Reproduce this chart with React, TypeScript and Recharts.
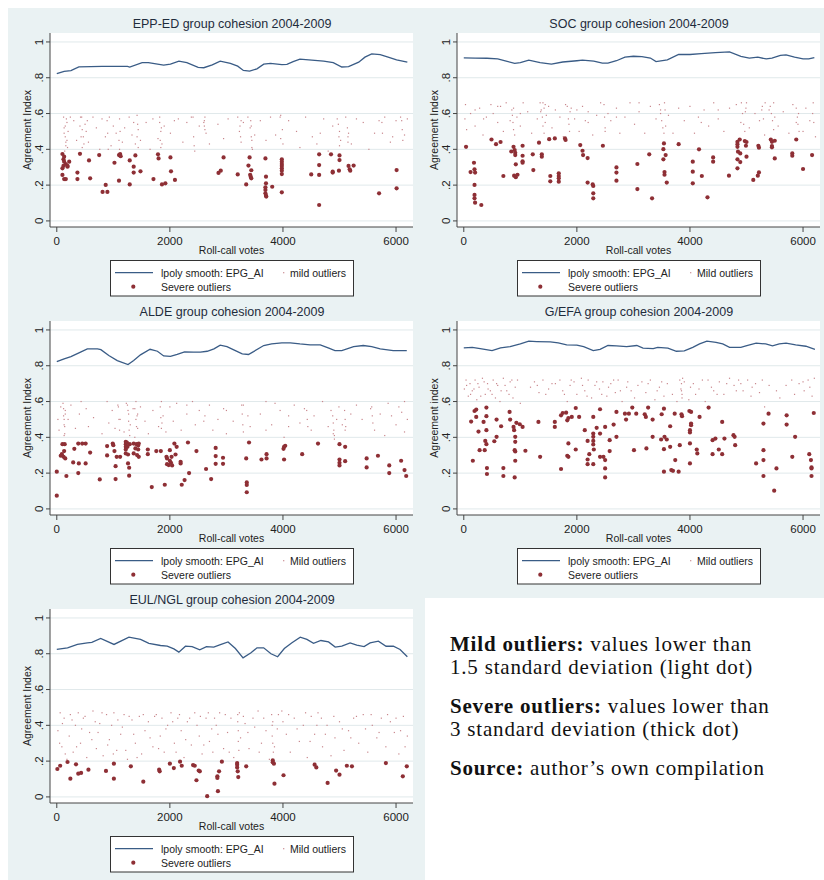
import { ComposedChart, XAxis, YAxis, CartesianGrid, Scatter } from "recharts"

type Pt = [number, number]

// ---- EPP-ED ----
const eppSmooth: Pt[] = [[0,.823],[130,.836],[250,.840],[390,.861],[600,.862],[800,.863],[1010,.864],[1250,.864],[1290,.860],[1510,.885],[1620,.885],[1890,.870],[2010,.876],[2160,.893],[2300,.885],[2500,.858],[2600,.856],[2750,.872],[2890,.893],[3070,.880],[3200,.865],[3300,.841],[3410,.837],[3540,.850],[3660,.876],[3780,.880],[3980,.873],[4070,.875],[4180,.890],[4300,.904],[4510,.898],[4720,.893],[4890,.884],[5040,.860],[5160,.862],[5340,.887],[5450,.915],[5570,.933],[5720,.929],[5860,.915],[6010,.900],[6200,.887]]
const eppSevere: Pt[] = [[100,.374],[130,.359],[118,.344],[130,.331],[160,.318],[118,.307],[100,.294],[190,.303],[220,.331],[190,.307],[100,.257],[130,.234],[160,.234],[365,.270],[365,.234],[410,.375],[570,.338],[590,.238],[750,.368],[810,.162],[865,.201],[895,.162],[1020,.325],[1100,.225],[1100,.368],[1120,.374],[1130,.362],[1290,.338],[1290,.204],[1360,.303],[1360,.270],[1390,.366],[1480,.277],[1710,.234],[1790,.372],[1800,.349],[1860,.204],[1920,.210],[2010,.355],[2020,.277],[2090,.229],[2860,.268],[2900,.281],[2950,.355],[3200,.260],[3350,.204],[3390,.309],[3410,.355],[3420,.258],[3430,.247],[3440,.238],[3440,.283],[3690,.349],[3700,.247],[3700,.210],[3690,.188],[3690,.173],[3690,.154],[3700,.141],[3705,.136],[3810,.191],[3980,.344],[3980,.331],[3980,.318],[3980,.307],[3980,.294],[3980,.281],[3980,.262],[3980,.160],[4500,.260],[4640,.372],[4640,.312],[4640,.257],[4640,.089],[4850,.372],[4880,.275],[4880,.270],[4990,.281],[5000,.366],[5000,.340],[5160,.307],[5180,.288],[5190,.281],[5250,.309],[5700,.154],[6010,.284],[6010,.182]]
const eppMild: Pt[] = [[120,.58],[130,.52],[150,.47],[160,.44],[180,.55],[190,.41],[200,.50],[240,.58],[300,.56],[350,.45],[410,.53],[420,.58],[430,.47],[450,.41],[520,.50],[540,.56],[560,.44],[640,.58],[700,.52],[760,.40],[800,.57],[860,.47],[930,.58],[960,.42],[1000,.53],[1050,.49],[1110,.57],[1160,.44],[1200,.52],[1280,.58],[1330,.48],[1360,.55],[1390,.43],[1420,.59],[1440,.51],[1480,.45],[1580,.55],[1650,.40],[1700,.57],[1790,.46],[1820,.58],[1840,.50],[1860,.43],[1900,.53],[2010,.49],[2080,.56],[2150,.57],[2230,.44],[2300,.55],[2380,.58],[2440,.39],[2520,.53],[2610,.56],[2620,.51],[2640,.49],[2700,.43],[2850,.54],[2950,.46],[3030,.57],[3200,.58],[3230,.50],[3260,.44],[3300,.55],[3380,.58],[3420,.52],[3440,.47],[3450,.41],[3500,.48],[3600,.56],[3700,.45],[3780,.58],[3870,.48],[3960,.59],[3990,.51],[4000,.43],[4100,.56],[4240,.50],[4300,.41],[4400,.58],[4520,.47],[4600,.43],[4660,.49],[4720,.57],[4800,.39],[4880,.53],[4960,.57],[5000,.50],[5020,.45],[5110,.58],[5150,.47],[5210,.43],[5300,.57],[5420,.55],[5520,.40],[5620,.49],[5700,.56],[5800,.58],[5900,.44],[5940,.47],[6000,.56],[6080,.58],[6150,.48],[6200,.57],
  [140,.39],[150,.53],[170,.57],[180,.45],[130,.49],[160,.42],[440,.58],[450,.51],[470,.47],[480,.43],[500,.54],[890,.56],[900,.49],[910,.40],[1100,.45],[1110,.40],[1120,.50],[1420,.47],[1430,.54],[1440,.41],[1820,.55],[1830,.45],[1840,.41],[1850,.52],[2410,.58],[2420,.47],[2430,.42],[2600,.55],[2610,.53],[2620,.58],[3240,.53],[3250,.47],[3260,.56],[3430,.56],[3440,.53],[3450,.45],[3460,.40],[3950,.58],[3960,.46],[4980,.54],[4990,.47],[5000,.42],[5140,.52],[5150,.44],[5160,.49],[5750,.55],[5760,.49],[6100,.56],[6110,.51],[6120,.45]]

// ---- SOC ----
const socSmooth: Pt[] = [[0,.911],[200,.910],[410,.909],[600,.905],[750,.893],[900,.880],[1000,.884],[1150,.898],[1350,.885],[1550,.876],[1750,.888],[2000,.895],[2100,.898],[2300,.893],[2450,.882],[2550,.882],[2700,.895],[2850,.915],[3000,.920],[3150,.918],[3300,.910],[3400,.890],[3600,.900],[3800,.930],[4000,.930],[4200,.935],[4450,.940],[4700,.945],[4900,.920],[5050,.910],[5200,.915],[5350,.905],[5450,.910],[5600,.925],[5700,.928],[5850,.915],[6000,.905],[6100,.905],[6200,.912]]
const socSevere: Pt[] = [[40,.414],[120,.273],[180,.325],[190,.288],[200,.270],[190,.201],[190,.145],[190,.126],[200,.102],[310,.089],[490,.455],[570,.429],[650,.441],[700,.251],[840,.388],[880,.414],[900,.396],[910,.381],[910,.368],[920,.316],[890,.253],[920,.244],[950,.258],[1040,.420],[1040,.364],[1040,.333],[1040,.325],[1220,.372],[1230,.284],[1330,.437],[1380,.372],[1380,.359],[1510,.457],[1530,.251],[1530,.221],[1610,.461],[1680,.266],[1680,.251],[1680,.238],[1680,.219],[1790,.461],[1800,.452],[2060,.424],[2100,.392],[2110,.368],[2190,.351],[2190,.214],[2280,.204],[2290,.195],[2290,.154],[2290,.126],[2460,.420],[2700,.299],[2700,.270],[2700,.225],[3070,.318],[3070,.178],[3280,.372],[3330,.126],[3540,.433],[3530,.401],[3530,.344],[3550,.273],[3550,.258],[3570,.368],[3590,.214],[3800,.429],[4050,.331],[4050,.275],[4050,.210],[4160,.400],[4210,.251],[4310,.132],[4410,.355],[4410,.331],[4690,.253],[4840,.442],[4840,.429],[4840,.414],[4850,.387],[4840,.344],[4840,.294],[4880,.455],[4890,.377],[4890,.329],[4970,.446],[4990,.420],[5000,.441],[5000,.359],[5120,.229],[5210,.420],[5220,.409],[5220,.271],[5200,.253],[5430,.455],[5450,.442],[5450,.418],[5450,.411],[5500,.448],[5500,.349],[5810,.377],[5810,.364],[5880,.455],[6000,.290],[6160,.368]]
const socMild: Pt[] = [[20,.57],[30,.65],[50,.51],[120,.60],[200,.53],[280,.63],[340,.48],[400,.58],[480,.65],[520,.60],[600,.55],[650,.64],[700,.50],[750,.66],[820,.56],[880,.63],[900,.48],[940,.58],[1000,.53],[1050,.66],[1130,.61],[1200,.49],[1300,.57],[1360,.61],[1400,.66],[1420,.63],[1440,.55],[1460,.59],[1500,.64],[1560,.52],[1620,.62],[1700,.58],[1760,.47],[1800,.65],[1860,.54],[1900,.63],[1960,.57],[2000,.62],[2040,.50],[2100,.64],[2150,.56],[2200,.61],[2280,.48],[2350,.59],[2420,.66],[2500,.52],[2550,.60],[2600,.56],[2700,.63],[2760,.49],[2850,.58],[2940,.66],[3020,.54],[3100,.61],[3200,.49],[3300,.64],[3400,.57],[3480,.62],[3550,.66],[3570,.53],[3620,.59],[3700,.49],[3800,.63],[3900,.56],[4000,.64],[4080,.49],[4150,.58],[4250,.62],[4330,.53],[4420,.66],[4500,.57],[4600,.50],[4700,.63],[4820,.65],[4900,.55],[4980,.61],[5000,.66],[5050,.52],[5150,.60],[5230,.56],[5280,.64],[5320,.48],[5400,.62],[5480,.66],[5500,.58],[5560,.53],[5650,.61],[5750,.49],[5820,.65],[5880,.55],[5920,.60],[6000,.50],[6050,.63],[6120,.56],[6180,.66],[6220,.47],
  [850,.62],[870,.55],[880,.51],[860,.59],[1350,.66],[1370,.62],[1390,.58],[1400,.53],[1420,.49],[1440,.65],[1830,.64],[1850,.57],[1870,.50],[1880,.61],[2480,.65],[2490,.58],[2500,.50],[3460,.65],[3480,.60],[3500,.56],[3520,.52],[3540,.49],[3560,.62],[4910,.66],[4930,.60],[4950,.54],[4970,.50],[4990,.63],[5270,.62],[5300,.57],[5330,.66],[5420,.64],[5440,.60],[5460,.56],[5480,.51],[5880,.63],[5900,.58],[5910,.54],[5930,.50],[6170,.60],[6190,.55],[200,.62],[350,.57],[600,.64],[1000,.60],[2200,.55],[2700,.58],[3100,.66],[4200,.55],[4500,.62]]

// ---- ALDE ----
const aldeSmooth: Pt[] = [[0,.823],[130,.838],[250,.851],[420,.876],[540,.894],[720,.894],[780,.890],[920,.857],[1070,.829],[1260,.807],[1360,.829],[1480,.861],[1650,.892],[1780,.881],[1890,.855],[2010,.852],[2130,.863],[2260,.878],[2420,.876],[2540,.876],[2660,.881],[2780,.894],[2890,.915],[3010,.907],[3130,.889],[3280,.866],[3390,.863],[3480,.879],[3660,.913],[3800,.922],[3980,.928],[4130,.928],[4300,.922],[4480,.917],[4660,.917],[4800,.900],[4920,.885],[5040,.885],[5250,.907],[5420,.913],[5570,.907],[5720,.894],[5950,.885],[6190,.885]]
const aldeSevere: Pt[] = [[0,.208],[0,.074],[70,.297],[90,.306],[100,.362],[120,.291],[130,.323],[140,.362],[150,.282],[170,.184],[290,.260],[310,.336],[380,.365],[390,.254],[380,.200],[450,.365],[510,.254],[510,.365],[590,.315],[760,.165],[890,.351],[890,.299],[990,.365],[1000,.356],[1020,.323],[1040,.239],[1040,.167],[1060,.291],[1120,.291],[1220,.375],[1220,.362],[1220,.347],[1220,.332],[1220,.310],[1240,.371],[1250,.347],[1260,.304],[1260,.254],[1280,.230],[1280,.186],[1290,.362],[1360,.365],[1360,.310],[1390,.338],[1410,.362],[1420,.301],[1440,.354],[1440,.332],[1450,.365],[1450,.291],[1610,.332],[1610,.306],[1680,.122],[1760,.323],[1840,.323],[1910,.135],[1940,.291],[1950,.282],[1950,.250],[1980,.245],[2000,.269],[2000,.328],[2020,.258],[2030,.291],[2040,.243],[2080,.365],[2100,.304],[2120,.347],[2190,.263],[2190,.254],[2210,.135],[2260,.161],[2320,.371],[2340,.200],[2470,.323],[2640,.223],[2730,.167],[2810,.341],[2810,.295],[2810,.252],[2940,.286],[2940,.252],[3350,.282],[3360,.148],[3360,.134],[3360,.093],[3400,.371],[3620,.276],[3710,.306],[3710,.282],[4010,.336],[4020,.347],[4020,.276],[4040,.353],[4340,.306],[4620,.365],[5000,.362],[5000,.276],[5000,.258],[5000,.243],[5100,.347],[5100,.267],[5480,.282],[5480,.232],[5680,.297],[5880,.243],[5880,.200],[6090,.269],[6150,.217],[6180,.184]]
const aldeMild: Pt[] = [[20,.50],[40,.44],[70,.57],[110,.59],[120,.52],[130,.47],[140,.42],[150,.55],[200,.50],[250,.58],[330,.45],[400,.53],[430,.60],[520,.56],[560,.46],[650,.51],[800,.42],[890,.60],[920,.48],[980,.55],[1030,.45],[1080,.58],[1120,.50],[1190,.43],[1230,.59],[1270,.53],[1300,.47],[1350,.56],[1380,.40],[1400,.60],[1420,.52],[1430,.45],[1480,.57],[1560,.49],[1620,.42],[1700,.55],[1800,.46],[1850,.60],[1880,.52],[1930,.43],[2000,.57],[2060,.49],[2120,.59],[2200,.44],[2300,.53],[2400,.60],[2450,.47],[2520,.55],[2620,.52],[2700,.58],[2760,.44],[2850,.50],[2950,.56],[3000,.42],[3120,.49],[3300,.58],[3380,.52],[3420,.46],[3600,.53],[3700,.60],[3800,.47],[3860,.59],[3950,.55],[4020,.40],[4100,.52],[4200,.58],[4300,.48],[4380,.56],[4500,.44],[4550,.52],[4700,.60],[4800,.46],[4850,.55],[4890,.42],[4910,.39],[4950,.50],[4990,.57],[5050,.47],[5100,.44],[5200,.53],[5300,.58],[5400,.50],[5550,.56],[5620,.44],[5720,.53],[5800,.41],[5860,.59],[5920,.52],[6000,.47],[6050,.57],[6150,.60],[6200,.50],
  [120,.56],[130,.50],[140,.46],[130,.41],[150,.53],[1090,.57],[1100,.50],[1110,.44],[1250,.58],[1260,.55],[1270,.49],[1280,.44],[1290,.41],[1380,.56],[1400,.50],[1410,.46],[1430,.53],[1830,.57],[1840,.51],[1850,.45],[1860,.48],[3270,.58],[3280,.53],[3290,.47],[3300,.43],[4420,.55],[4430,.50],[4440,.46],[4880,.52],[4890,.48],[4900,.44],[4910,.41],[5090,.55],[5100,.50],[5110,.46],[5570,.57],[5580,.52],[5590,.48],[2300,.58],[2600,.49],[3000,.55],[3700,.44],[4100,.46],[6100,.54],[6150,.43]]

// ---- G/EFA ----
const gefaSmooth: Pt[] = [[0,.900],[150,.903],[290,.896],[500,.885],[650,.900],[820,.907],[1000,.922],[1150,.937],[1290,.935],[1530,.933],[1670,.928],[1820,.917],[2000,.915],[2120,.907],[2290,.885],[2410,.892],[2550,.913],[2700,.911],[2880,.907],[3060,.913],[3170,.898],[3350,.896],[3430,.903],[3610,.898],[3760,.881],[3900,.883],[4050,.903],[4170,.922],[4300,.937],[4460,.931],[4580,.922],[4700,.903],[4900,.903],[4990,.911],[5170,.926],[5340,.922],[5460,.911],[5580,.922],[5700,.926],[5870,.917],[6050,.909],[6210,.892]]
const gefaSevere: Pt[] = [[130,.488],[160,.269],[190,.547],[220,.555],[220,.514],[260,.432],[280,.328],[350,.486],[370,.328],[380,.380],[400,.362],[400,.566],[400,.518],[400,.440],[410,.228],[410,.195],[540,.378],[580,.499],[580,.403],[660,.462],[700,.228],[700,.184],[810,.542],[820,.499],[880,.458],[890,.440],[900,.328],[910,.375],[910,.403],[930,.481],[910,.321],[910,.269],[900,.176],[990,.473],[1040,.458],[1090,.325],[1320,.486],[1350,.291],[1610,.486],[1610,.458],[1720,.223],[1720,.523],[1750,.536],[1810,.538],[1830,.495],[1850,.508],[1830,.297],[1850,.291],[1850,.366],[1910,.514],[1980,.564],[1980,.332],[2040,.514],[2140,.440],[2190,.380],[2190,.276],[2190,.250],[2220,.306],[2290,.514],[2290,.421],[2290,.403],[2290,.380],[2290,.360],[2300,.332],[2290,.250],[2350,.453],[2410,.557],[2410,.421],[2410,.291],[2470,.291],[2500,.458],[2500,.273],[2500,.226],[2500,.176],[2580,.323],[2580,.384],[2650,.471],[2700,.542],[2700,.403],[2850,.532],[2870,.499],[2920,.532],[3010,.328],[2980,.566],[3050,.532],[3200,.529],[3220,.514],[3230,.338],[3260,.566],[3340,.499],[3340,.403],[3490,.388],[3500,.529],[3540,.560],[3550,.403],[3540,.334],[3540,.208],[3590,.388],[3650,.462],[3650,.347],[3670,.217],[3700,.213],[3730,.532],[3740,.273],[3800,.208],[3820,.356],[3850,.529],[3860,.518],[3990,.547],[4020,.542],[4000,.440],[4000,.427],[4020,.477],[4020,.468],[4000,.366],[4000,.254],[4120,.332],[4130,.310],[4170,.514],[4330,.566],[4400,.384],[4400,.306],[4450,.393],[4510,.332],[4570,.486],[4570,.306],[4610,.393],[4770,.412],[4790,.403],[4800,.356],[5170,.254],[5300,.477],[5300,.328],[5300,.273],[5300,.184],[5390,.532],[5490,.102],[5530,.226],[5710,.523],[5710,.471],[5810,.291],[5860,.403],[6110,.306],[6140,.273],[6150,.232],[6150,.226],[6150,.184],[6190,.536]]
const gefaMild: Pt[] = [[10,.67],[40,.72],[80,.63],[110,.70],[150,.66],[200,.72],[230,.61],[270,.68],[330,.73],[380,.64],[420,.70],[470,.66],[520,.72],[560,.62],[600,.69],[640,.60],[700,.73],[760,.66],[820,.71],[870,.62],[910,.68],[950,.72],[1000,.59],[1180,.68],[1250,.71],[1330,.65],[1400,.72],[1500,.67],[1560,.70],[1700,.72],[1780,.64],[1830,.60],[1880,.69],[1950,.71],[2080,.73],[2140,.66],[2200,.72],[2260,.62],[2320,.69],[2400,.67],[2460,.71],[2530,.63],[2600,.70],[2680,.65],[2730,.72],[2800,.60],[2880,.68],[2960,.66],[3020,.62],[3150,.71],[3220,.65],[3300,.72],[3380,.61],[3460,.68],[3540,.63],[3600,.70],[3690,.64],[3770,.60],[3820,.72],[3840,.67],[3860,.64],[3900,.71],[3980,.61],[4060,.70],[4160,.67],[4270,.60],[4320,.72],[4420,.66],[4520,.71],[4600,.64],[4700,.73],[4780,.69],[4860,.72],[4940,.66],[5020,.72],[5080,.63],[5160,.70],[5280,.72],[5320,.57],[5400,.69],[5530,.66],[5590,.62],[5800,.72],[5850,.64],[5930,.70],[6020,.66],[6090,.72],[6160,.63],[6200,.73],
  [50,.69],[120,.64],[180,.67],[250,.70],[300,.63],[360,.71],[430,.67],[500,.64],[580,.70],[660,.66],[730,.69],[800,.64],[850,.72],[1300,.69],[1450,.64],[1620,.70],[1750,.66],[1900,.72],[2000,.64],[2100,.69],[2180,.63],[2350,.71],[2440,.64],[2560,.68],[2650,.72],[2770,.66],[2900,.71],[3080,.69],[3260,.70],[3420,.66],[3500,.71],[3850,.70],[3850,.66],[3860,.62],[3870,.73],[4010,.68],[4100,.64],[4220,.72],[4380,.68],[4480,.64],[4650,.70],[4820,.66],[4900,.70],[5100,.68],[5230,.65],[5700,.69],[6000,.71],[6120,.68]]

// ---- EUL/NGL ----
const eulSmooth: Pt[] = [[0,.824],[190,.833],[365,.852],[540,.861],[620,.863],[776,.885],[1012,.852],[1276,.893],[1482,.880],[1629,.858],[1835,.846],[1953,.842],[2071,.827],[2159,.809],[2276,.842],[2394,.840],[2529,.822],[2647,.840],[2776,.837],[2894,.851],[3029,.866],[3159,.829],[3294,.777],[3435,.805],[3541,.833],[3659,.833],[3788,.800],[3906,.783],[4024,.829],[4159,.861],[4306,.893],[4424,.880],[4541,.858],[4671,.874],[4806,.866],[4924,.837],[5041,.842],[5188,.861],[5306,.848],[5435,.840],[5541,.861],[5688,.870],[5824,.842],[5953,.842],[6071,.824],[6200,.783]]
const eulSevere: Pt[] = [[10,.156],[60,.174],[190,.195],[240,.102],[340,.182],[380,.130],[430,.134],[560,.152],[870,.145],[1010,.186],[1010,.102],[1310,.171],[1530,.085],[1810,.152],[1820,.143],[2000,.186],[2070,.161],[2180,.197],[2210,.174],[2410,.178],[2440,.174],[2470,.093],[2510,.147],[2530,.143],[2660,.004],[2840,.115],[2840,.106],[2870,.143],[2850,.032],[2920,.197],[3190,.189],[3190,.180],[3190,.165],[3200,.143],[3210,.111],[3350,.171],[3820,.204],[3820,.193],[3840,.186],[3850,.074],[4010,.121],[4560,.180],[4590,.165],[4790,.078],[4940,.147],[5000,.124],[5130,.174],[5220,.171],[5820,.189],[6120,.115],[6190,.171]]
const eulMild: Pt[] = [[20,.37],[60,.47],[90,.28],[130,.44],[180,.21],[220,.34],[240,.46],[290,.25],[330,.40],[380,.47],[420,.30],[470,.44],[530,.22],[580,.36],[640,.48],[700,.27],[760,.41],[820,.23],[880,.46],[930,.32],[970,.40],[1010,.47],[1060,.26],[1130,.35],[1190,.46],[1250,.21],[1330,.43],[1390,.30],[1460,.45],[1500,.24],[1560,.37],[1620,.42],[1700,.28],[1760,.46],[1830,.34],[1900,.25],[1960,.40],[2020,.47],[2080,.30],[2140,.44],[2200,.37],[2250,.22],[2310,.42],[2380,.29],[2440,.47],[2520,.34],[2570,.24],[2640,.44],[2700,.31],[2760,.25],[2820,.40],[2880,.47],[2950,.27],[3020,.36],[3080,.44],[3130,.22],[3200,.46],[3250,.33],[3330,.41],[3400,.27],[3470,.44],[3560,.48],[3620,.30],[3700,.37],[3760,.21],[3820,.42],[3850,.28],[3920,.46],[3980,.48],[4060,.35],[4130,.25],[4200,.44],[4290,.31],[4360,.40],[4430,.22],[4500,.45],[4560,.35],[4620,.47],[4700,.28],[4780,.40],[4850,.23],[4920,.33],[5000,.42],[5080,.26],[5160,.37],[5250,.44],[5340,.30],[5420,.46],[5500,.25],[5580,.40],[5660,.33],[5740,.44],[5820,.28],[5900,.42],[5970,.36],[6050,.24],[6130,.45],[6200,.34],
  [50,.30],[100,.41],[150,.24],[270,.43],[350,.28],[440,.38],[500,.45],[620,.32],[680,.42],[730,.36],[800,.47],[900,.29],[1000,.24],[1080,.43],[1160,.39],[1220,.26],[1280,.45],[1360,.35],[1420,.22],[1530,.46],[1650,.33],[1730,.45],[1800,.27],[1860,.44],[1930,.38],[2050,.42],[2110,.25],[2170,.46],[2280,.32],[2350,.44],[2480,.40],[2540,.45],[2600,.29],[2680,.47],[2740,.38],[2790,.44],[2850,.35],[2980,.46],[3050,.25],[3200,.42],[3210,.37],[3210,.31],[3220,.26],[3230,.47],[3300,.45],[3380,.36],[3500,.39],[3580,.25],[3660,.44],[3800,.46],[3810,.40],[3810,.34],[3820,.30],[3830,.25],[3900,.38],[4000,.42],[4100,.46],[4250,.38],[4400,.47],[4480,.31],[4600,.40],[4680,.44],[4750,.35],[4900,.45],[5050,.38],[5200,.33],[5300,.45],[5460,.38],[5560,.46],[5700,.36],[5850,.46],[6000,.44],[6080,.37],[6160,.28]]

const xTicks = [0, 2000, 4000, 6000]
const yTicks = [0, 0.2, 0.4, 0.6, 0.8, 1]

const BG = "#eaf2f3"
const LINE = "#3a5c86"
const SEVERE = "#8e2f35"
const MILD = "#c8868c"
const FONT = '"Liberation Sans", Arial, Helvetica, sans-serif'

const toXY = (pts: Pt[]) => pts.map(([x, y]) => ({ x, y }))
const fmtY = (v: number) => (v === 0 ? "0" : v === 1 ? "1" : String(v).replace(/^0\./, "."))

// eslint-disable-next-line @typescript-eslint/no-explicit-any
function YTick({ x, y, payload }: any) {
  const tx = x - 1
  return (
    <text x={tx} y={y} transform={`rotate(-90 ${tx} ${y})`} textAnchor="middle" fontSize={11.5} fill="#222" fontFamily={FONT}>
      {fmtY(payload.value)}
    </text>
  )
}

// eslint-disable-next-line @typescript-eslint/no-explicit-any
const severeDot = (p: any) => <circle cx={p.cx} cy={p.cy} r={2.1} fill={SEVERE} />
// eslint-disable-next-line @typescript-eslint/no-explicit-any
const mildDot = (p: any) => <rect x={p.cx - 0.6} y={p.cy - 0.6} width={1.2} height={1.2} fill={MILD} />
const noDot = () => <g />

function Panel({
  left, top, title, smooth, severe, mild, yTitle = "Agreement Index", mildLabel = "Mild outliers",
}: {
  left: number; top: number; title: string; smooth: Pt[]; severe: Pt[]; mild: Pt[]; yTitle?: string; mildLabel?: string
}) {
  return (
    <div style={{ position: "absolute", left, top, width: 408, height: 288 }}>
      <div style={{ position: "absolute", left: 0, top: 8, width: 448, textAlign: "center", fontSize: 12.5, lineHeight: "16px", color: "#1f2c3c", fontFamily: FONT }}>
        {title}
      </div>
      <ComposedChart width={408} height={250} margin={{ top: 25, right: 3, bottom: 0, left: 0 }}>
        <CartesianGrid vertical={false} horizontalValues={yTicks} stroke="#e0e9eb" fill="#fff" />
        <XAxis
          type="number" dataKey="x" domain={[-120, 6300]} ticks={xTicks} height={31}
          allowDataOverflow tickSize={5} tickMargin={5} stroke="#444"
          tick={{ fontSize: 11.5, fill: "#222", fontFamily: FONT }}
          label={{ value: "Roll-call votes", position: "insideBottom", offset: 4, style: { fontSize: 10.5, fill: "#222", fontFamily: FONT } }}
        />
        <YAxis
          type="number" dataKey="y" domain={[-0.034, 1.05]} ticks={yTicks} width={42}
          allowDataOverflow tickSize={4} stroke="#444" tick={<YTick />}
          label={{ value: yTitle, angle: -90, position: "insideLeft", offset: 19, style: { textAnchor: "middle", fontSize: 10.5, fill: "#222", fontFamily: FONT } }}
        />
        <Scatter data={toXY(mild)} shape={mildDot} isAnimationActive={false} />
        <Scatter data={toXY(severe)} shape={severeDot} isAnimationActive={false} />
        <Scatter data={toXY(smooth)} line={{ stroke: LINE, strokeWidth: 1.3 }} shape={noDot} isAnimationActive={false} />
      </ComposedChart>
      <svg style={{ position: "absolute", left: 102, top: 252 }} width={244} height={37} fontFamily={FONT} fontSize={10.5} fill="#222">
        <rect x={0.5} y={0.5} width={243} height={35.5} fill="#fff" stroke="#333" />
        <line x1={5} x2={43} y1={12.7} y2={12.7} stroke={LINE} strokeWidth={1.3} />
        <text x={51} y={16.5}>lpoly smooth: EPG_AI</text>
        <rect x={173.1} y={12.1} width={1.2} height={1.2} fill={MILD} />
        <text x={180} y={16.5}>{mildLabel}</text>
        <circle cx={23.3} cy={26.7} r={2.1} fill={SEVERE} />
        <text x={51} y={30.5}>Severe outliers</text>
      </svg>
    </div>
  )
}

export default function App() {
  // fixed to the viewport so the 824x880 sheet never triggers page scrolling
  return (
    <div style={{ position: "fixed", left: 0, top: 0, width: 824, height: 880, background: "#fff", overflow: "hidden" }}>
      <div style={{ position: "absolute", left: 8, top: 8, width: 816, height: 872, background: BG }}>
        <Panel left={0} top={0} title="EPP-ED group cohesion 2004-2009" smooth={eppSmooth} severe={eppSevere} mild={eppMild} mildLabel="mild outliers" />
        <Panel left={407} top={0} title="SOC group cohesion 2004-2009" smooth={socSmooth} severe={socSevere} mild={socMild} />
        <Panel left={0} top={288} title="ALDE group cohesion 2004-2009" smooth={aldeSmooth} severe={aldeSevere} mild={aldeMild} />
        <Panel left={407} top={288} title="G/EFA group cohesion 2004-2009" smooth={gefaSmooth} severe={gefaSevere} mild={gefaMild} yTitle="Agreement index" />
        <Panel left={0} top={576} title="EUL/NGL group cohesion 2004-2009" smooth={eulSmooth} severe={eulSevere} mild={eulMild} />
        <div style={{ position: "absolute", left: 417, top: 590, width: 399, height: 282, background: "#fff" }}>
          <div style={{ position: "absolute", left: 25, top: 35, fontFamily: '"Liberation Serif", "Times New Roman", serif', fontSize: 21, lineHeight: "22.5px", letterSpacing: 0.8, color: "#111" }}>
            <p style={{ margin: "0 0 17px" }}><b>Mild outliers:</b> values lower than<br />1.5 standard deviation (light dot)</p>
            <p style={{ margin: "0 0 17px" }}><b>Severe outliers:</b> values lower than<br />3 standard deviation (thick dot)</p>
            <p style={{ margin: 0 }}><b>Source:</b> author’s own compilation</p>
          </div>
        </div>
      </div>
    </div>
  )
}
